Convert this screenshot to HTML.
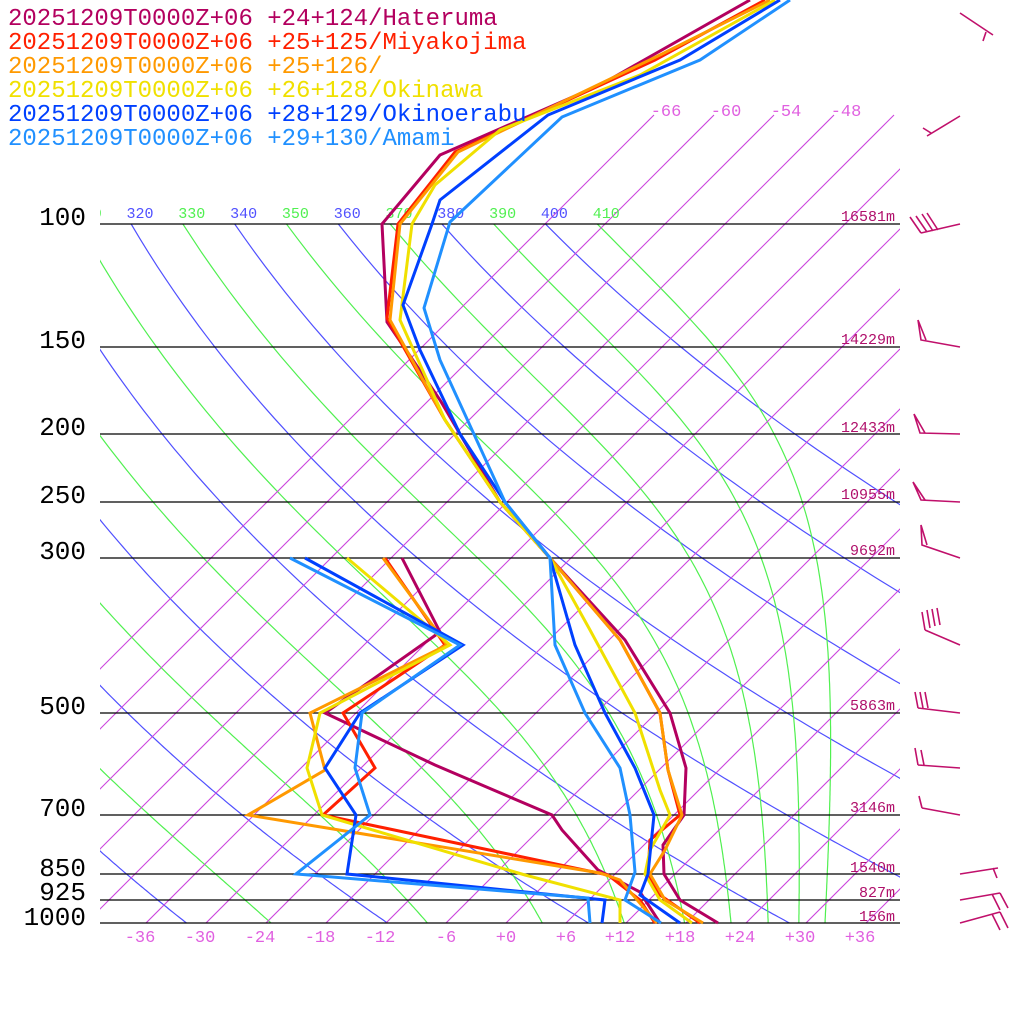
<!DOCTYPE html>
<html><head><meta charset="utf-8"><style>
html,body{margin:0;padding:0;background:#fff;width:1024px;height:1024px;overflow:hidden}
svg{display:block}
text{font-family:"Liberation Mono",monospace}
</style></head><body>
<svg id="s" width="1024" height="1024" viewBox="0 0 1024 1024" xmlns="http://www.w3.org/2000/svg">
<defs>
<clipPath id="plot"><rect x="100" y="224" width="800" height="699"/></clipPath>
<clipPath id="iso"><rect x="100" y="100" width="800" height="823"/></clipPath>
<clipPath id="lab"><rect x="100" y="195" width="800" height="30"/></clipPath>
</defs>
<g id="adi" clip-path="url(#plot)" fill="none" stroke-width="1.2"></g>
<g id="isot" clip-path="url(#iso)" stroke="#cc44dd" stroke-width="1.1"></g>
<g id="thl" clip-path="url(#lab)" font-size="15" text-anchor="middle"></g>
<g stroke="#000" stroke-width="1.3">
<line x1="100" y1="224" x2="900" y2="224"/><line x1="100" y1="347" x2="900" y2="347"/>
<line x1="100" y1="434" x2="900" y2="434"/><line x1="100" y1="502" x2="900" y2="502"/>
<line x1="100" y1="558" x2="900" y2="558"/><line x1="100" y1="713" x2="900" y2="713"/>
<line x1="100" y1="815" x2="900" y2="815"/><line x1="100" y1="874" x2="900" y2="874"/>
<line x1="100" y1="900" x2="900" y2="900"/><line x1="100" y1="923" x2="900" y2="923"/>
</g>
<g font-size="26" fill="#000" text-anchor="end">
<text x="86" y="225">100</text><text x="86" y="348">150</text><text x="86" y="435">200</text>
<text x="86" y="503">250</text><text x="86" y="559">300</text><text x="86" y="714">500</text>
<text x="86" y="816">700</text><text x="86" y="876">850</text><text x="86" y="900">925</text>
<text x="86" y="925">1000</text>
</g>
<g font-size="15" fill="#b0106b" text-anchor="end">
<text x="895" y="221">16581m</text><text x="895" y="344">14229m</text><text x="895" y="432">12433m</text>
<text x="895" y="499">10955m</text><text x="895" y="555">9692m</text><text x="895" y="710">5863m</text>
<text x="895" y="812">3146m</text><text x="895" y="872">1540m</text><text x="895" y="897">827m</text>
<text x="895" y="921">156m</text>
</g>
<g font-size="17" fill="#e060e0" text-anchor="middle">
<text x="140" y="942">-36</text><text x="200" y="942">-30</text><text x="260" y="942">-24</text>
<text x="320" y="942">-18</text><text x="380" y="942">-12</text><text x="446" y="942">-6</text>
<text x="506" y="942">+0</text><text x="566" y="942">+6</text><text x="620" y="942">+12</text>
<text x="680" y="942">+18</text><text x="740" y="942">+24</text><text x="800" y="942">+30</text>
<text x="860" y="942">+36</text>
<text x="666" y="116">-66</text><text x="726" y="116">-60</text><text x="786" y="116">-54</text><text x="846" y="116">-48</text>
</g>
<g fill="none" stroke-width="3" stroke-linejoin="miter">
<polyline stroke="#b3005f" points="750,0 600,85 440,155 382,224 387,322 440,400 500,502 550,558 625,640 670,713 686,768 684,815 663,845 664,874 680,900 718,923"/>
<polyline stroke="#b3005f" points="402,558 440,632 325,713 435,765 552,815 562,830 598,870 640,892 660,923"/>
<polyline stroke="#ff2000" points="765,0 655,60 455,152 398,224 387,318 445,420 500,502 550,558 620,640 660,713 668,770 680,815 650,840 648,874 660,895 700,923"/>
<polyline stroke="#ff2000" points="385,558 445,645 343,713 375,768 323,815 608,875 640,900 655,923"/>
<polyline stroke="#ff9900" points="770,0 660,55 458,152 400,224 390,320 445,420 500,502 550,558 620,640 660,713 668,770 682,815 665,850 650,874 665,900 703,923"/>
<polyline stroke="#ff9900" points="383,558 447,645 310,713 325,770 248,815 600,873 620,880 657,923"/>
<polyline stroke="#f0e000" points="775,0 640,75 500,130 435,185 412,224 400,320 445,420 500,502 550,558 590,630 635,713 660,790 670,815 650,850 645,874 660,900 692,923"/>
<polyline stroke="#f0e000" points="347,558 450,645 320,713 307,768 322,815 525,875 620,900 620,923"/>
<polyline stroke="#0040ff" points="780,0 680,60 548,115 440,200 432,224 403,305 420,350 460,434 505,502 550,558 575,645 605,713 635,768 654,815 648,874 640,895 680,923"/>
<polyline stroke="#0040ff" points="305,558 463,645 360,713 325,768 356,815 347,874 605,900 602,923"/>
<polyline stroke="#2090ff" points="790,0 700,60 562,117 450,222 424,308 440,360 505,502 550,558 555,645 585,713 620,768 630,815 635,872 625,900 661,923"/>
<polyline stroke="#2090ff" points="290,558 460,645 362,713 355,768 370,815 296,874 588,898 590,923"/>
</g>
<g stroke="#c0106b" stroke-width="1.6" fill="none">
<path d="M960,13 L993,35 M986,32 L983,41"/>
<path d="M960,116 L927,136 M923,128 L931,133"/>
<path d="M960,224 L921,233 M921,233 L910,217 M927,232 L916,216 M933,231 L922,214 M938,230 L927,213"/>
<path d="M960,347 L921,340 L918,320 L926,340"/>
<path d="M960,434 L920,433 L914,414 L925,433"/>
<path d="M960,502 L921,500 L913,482 L925,500"/>
<path d="M960,558 L922,545 L921,525 L927,545"/>
<path d="M960,645 L925,630 M925,630 L922,612 M930,628 L927,610 M935,626 L932,609 M940,625 L937,608"/>
<path d="M960,713 L918,708 M918,708 L915,692 M923,708 L920,692 M928,708 L925,692"/>
<path d="M960,768 L918,765 M918,765 L915,748 M924,765 L921,750"/>
<path d="M960,815 L922,808 M922,808 L919,796"/>
<path d="M960,874 L998,868 M993,868 L997,878"/>
<path d="M960,900 L1000,893 M992,894 L1000,910 M1000,893 L1008,908"/>
<path d="M960,923 L1000,912 M992,914 L1000,930 M1000,912 L1008,928"/>
</g>
<g font-size="24">
<text x="8" y="25" fill="#b3005f">20251209T0000Z+06 +24+124/Hateruma</text>
<text x="8" y="49" fill="#ff2000">20251209T0000Z+06 +25+125/Miyakojima</text>
<text x="8" y="73" fill="#ff9900">20251209T0000Z+06 +25+126/</text>
<text x="8" y="97" fill="#f0e000">20251209T0000Z+06 +26+128/Okinawa</text>
<text x="8" y="121" fill="#0040ff">20251209T0000Z+06 +28+129/Okinoerabu</text>
<text x="8" y="145" fill="#2090ff">20251209T0000Z+06 +29+130/Amami</text>
</g>
</svg>
<script>
(function(){
var NS="http://www.w3.org/2000/svg";
function yOf(p){return 923-303.6*Math.log(1000/p);}
function xOf(Tc,y){return 506+10*Tc+(923-y);}
var adi=document.getElementById('adi'),iso=document.getElementById('isot'),thl=document.getElementById('thl');
function es(Tc){return 6.112*Math.exp(17.67*Tc/(Tc+243.5));}
for(var th=200;th<=410;th+=10){
  var T=th*Math.pow(0.1,0.2857),p=100,pts=[];
  var blue=((th/10)%2===0);
  var mf=blue?0:1.12;
  while(p<=1000.01){
    var y=yOf(p);pts.push(xOf(T-273.15,y).toFixed(1)+","+y.toFixed(1));
    var dp=5;
    var Tc=T-273.15,e=es(Tc),rs=mf*0.622*e/Math.max(p-e,1);
    var num=287*T+2.5e6*rs,den=1004+2.5e6*2.5e6*rs*0.622/(287*T*T);
    T+=num/den/p*dp;p+=dp;
  }
  var pl=document.createElementNS(NS,'polyline');
  pl.setAttribute('points',pts.join(' '));
  pl.setAttribute('stroke',blue?'#5050ff':'#50f050');
  adi.appendChild(pl);
  var t0=th*Math.pow(0.1,0.2857)-273.15,xl=xOf(t0,224)+9;
  var tx=document.createElementNS(NS,'text');
  tx.setAttribute('x',xl.toFixed(1));tx.setAttribute('y','218');
  tx.setAttribute('fill',blue?'#5050ff':'#50f050');tx.textContent=th;
  thl.appendChild(tx);
}
for(var t=-66;t<=60;t+=6){
  var l=document.createElementNS(NS,'line');
  l.setAttribute('x1',xOf(t,923));l.setAttribute('y1',923);
  l.setAttribute('x2',xOf(t,115));l.setAttribute('y2',115);
  iso.appendChild(l);
}
})();
</script>
</body></html>
